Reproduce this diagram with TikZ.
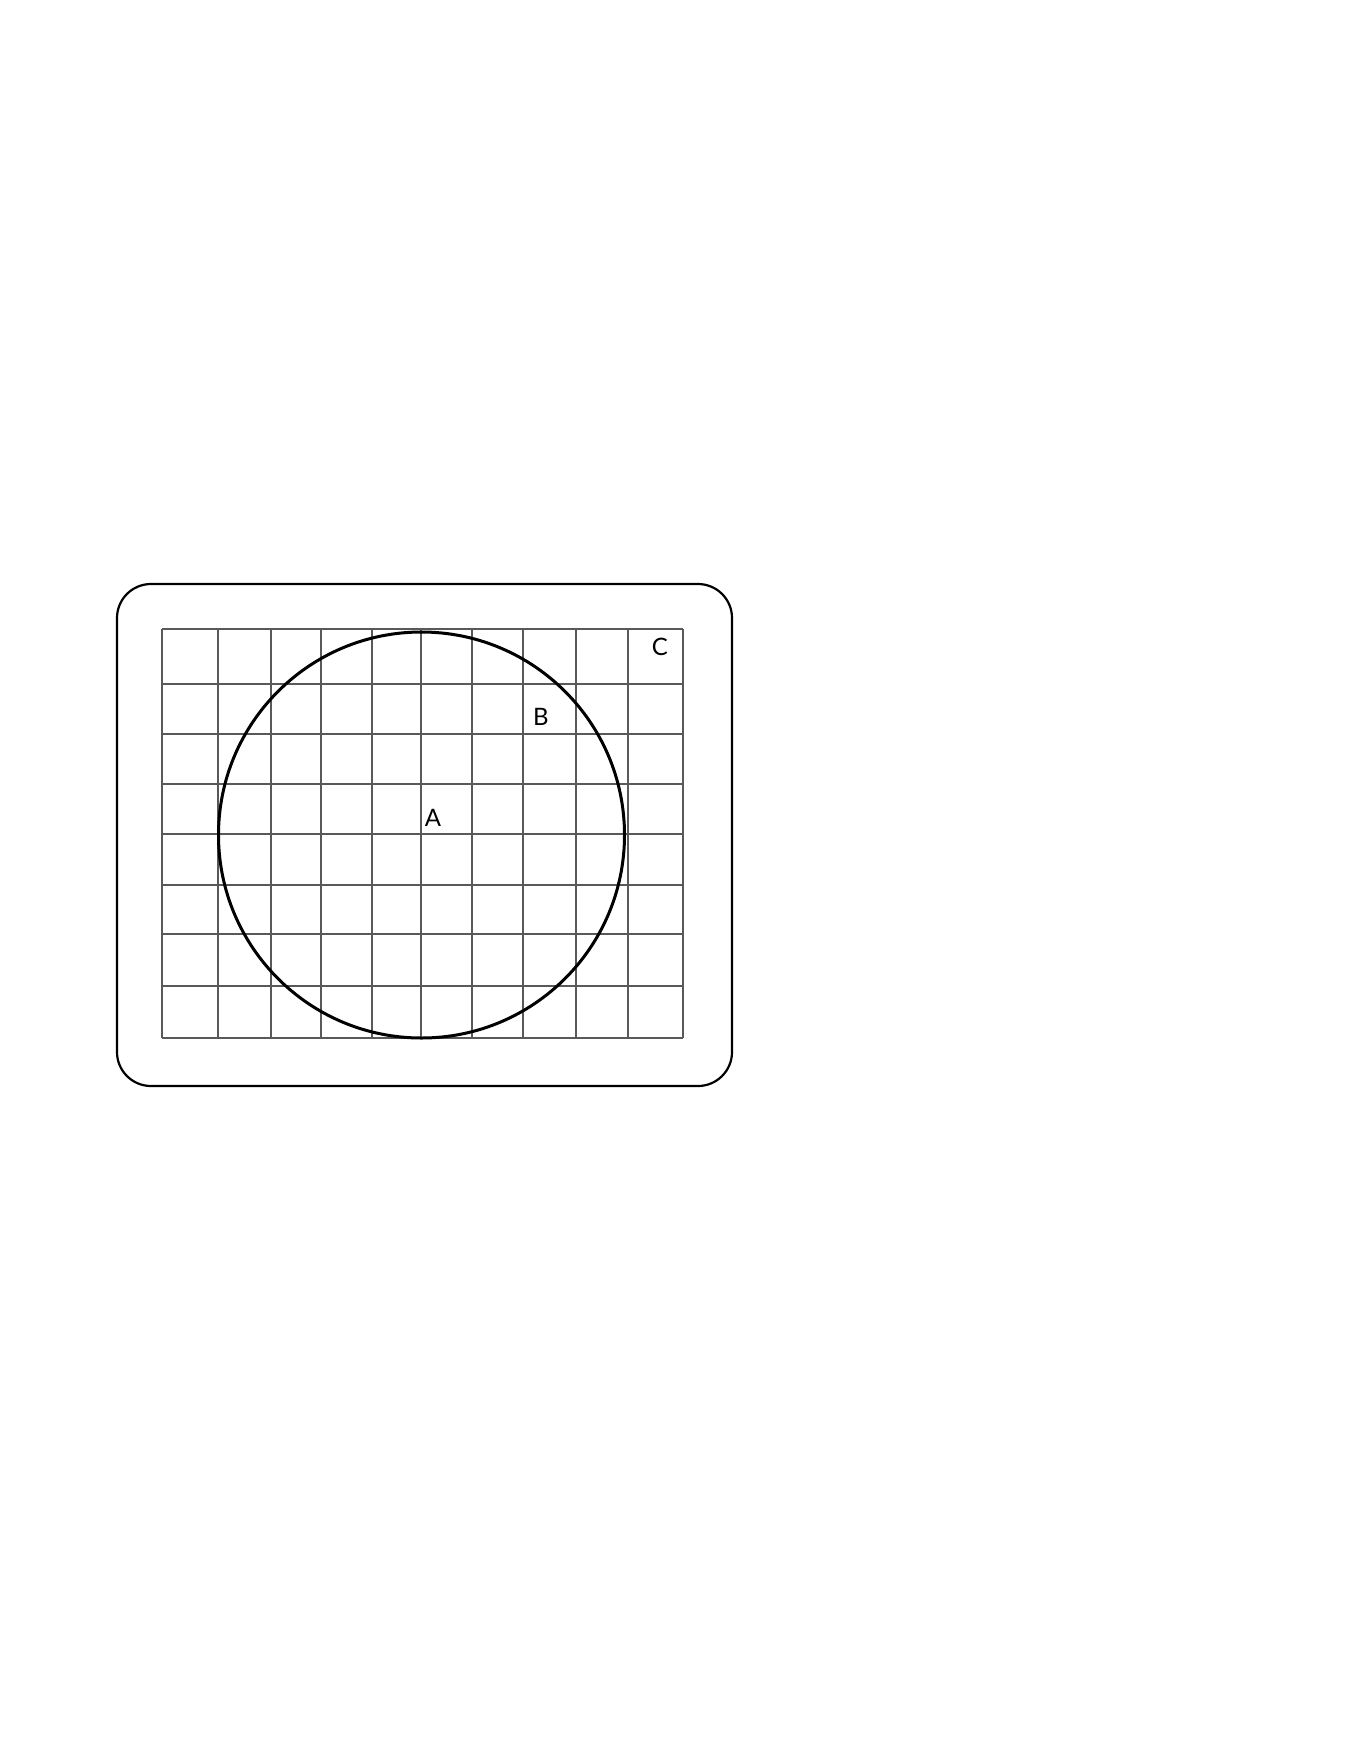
\documentclass[tikz,border=0pt]{standalone}
\usepackage{fontspec}
\setmainfont{Lato}
\begin{document}
\begin{tikzpicture}[x=0.5pt,y=-0.5pt,
  gridline/.style={draw=black!65,line width=1pt},
  frame/.style={draw=black,line width=1.1pt,rounded corners=17pt},
  ring/.style={draw=black,line width=1.5pt},
  lbl/.style={font=\fontsize{12}{14}\selectfont,inner sep=0pt}]
\useasboundingbox (0,0) rectangle (1361,1761);
\draw[frame] (117,584) rectangle (732,1086);
\foreach \x in {162,218,271,321,372,421,472,523,576,628,683}
  \draw[gridline] (\x,629) -- (\x,1038);
\foreach \y in {629,684,734,784,834,885,934,986,1038}
  \draw[gridline] (162,\y) -- (683,\y);
\node[ring,circle,minimum size=203pt,inner sep=0pt] (circ) at (421.5,835) {};
\node[lbl] (A) at (433,818) {A};
\node[lbl] (B) at (541,717) {B};
\node[lbl] (C) at (660,647) {C};
\end{tikzpicture}
\end{document}
